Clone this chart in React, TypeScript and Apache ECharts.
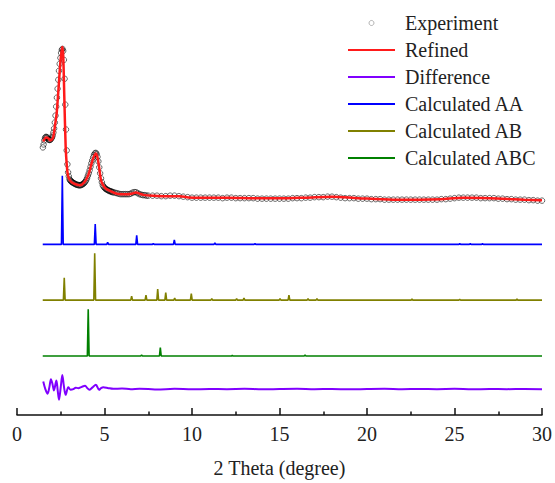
import React, { useEffect, useRef } from "react";
import * as echarts from "echarts";

// ---- Data (y in arbitrary intensity units, already stacked for display) ----
const experiment: [number, number][] = [
  [1.48, 269], [1.52, 272], [1.56, 276], [1.6, 278.5], [1.64, 279.5], [1.68, 279.5], [1.72, 279], [1.76, 278],
  [1.8, 277], [1.84, 276.5], [1.88, 276.5], [1.92, 277], [1.96, 278], [2.0, 279], [2.04, 281], [2.08, 284],
  [2.12, 288], [2.16, 294], [2.2, 301], [2.24, 310], [2.28, 319], [2.32, 328], [2.36, 337], [2.4, 346],
  [2.44, 353], [2.48, 359], [2.52, 364], [2.56, 367], [2.6, 368], [2.64, 366], [2.68, 357], [2.72, 338],
  [2.76, 312], [2.8, 287], [2.84, 266], [2.88, 252], [2.92, 244], [2.96, 240], [3.0, 237], [3.04, 236],
  [3.08, 235], [3.12, 234.5], [3.16, 234], [3.2, 233.5], [3.25, 233], [3.3, 232.5], [3.35, 232], [3.4, 231.5],
  [3.45, 231.5], [3.5, 231], [3.55, 231], [3.6, 231], [3.65, 231], [3.7, 231.5], [3.75, 232], [3.8, 232.5],
  [3.85, 233.5], [3.9, 234.5], [3.95, 236], [4.0, 238], [4.05, 240.5], [4.1, 243], [4.15, 246], [4.2, 249.5],
  [4.25, 253], [4.3, 256], [4.35, 259], [4.4, 261.5], [4.45, 263], [4.5, 263.5], [4.55, 262.5], [4.6, 259.5],
  [4.65, 255], [4.7, 249], [4.75, 243], [4.8, 238], [4.85, 234], [4.9, 231], [4.95, 229.5], [5.0, 228.5],
  [5.05, 227.5], [5.1, 227], [5.15, 226.5], [5.2, 226], [5.25, 225.5], [5.3, 225], [5.35, 225], [5.4, 224.5],
  [5.45, 224], [5.5, 224], [5.6, 223.5], [5.7, 223], [5.8, 222.5], [5.9, 222], [6.0, 222], [6.1, 222],
  [6.2, 222], [6.3, 222], [6.4, 222], [6.5, 222.5], [6.6, 223.5], [6.7, 224], [6.8, 224], [6.9, 223],
  [7.0, 222], [7.1, 221.5], [7.2, 221], [7.3, 221], [7.4, 220.5], [7.5, 220.5], [7.75, 220.5], [8.0, 220.5],
  [8.25, 220], [8.5, 220], [8.75, 220.5], [9.0, 220.5], [9.25, 220], [9.5, 219.5], [9.75, 219], [10.0, 218.5],
  [10.25, 218.5], [10.5, 218.5], [10.75, 218.5], [11.0, 218.5], [11.25, 218.5], [11.5, 218.5], [11.75, 218],
  [12.0, 218.5], [12.25, 218.5], [12.5, 218], [12.75, 218], [13.0, 218], [13.25, 218], [13.5, 218],
  [13.75, 217.5], [14.0, 217.5], [14.25, 217.5], [14.5, 217.5], [14.75, 217.5], [15.0, 217.5], [15.25, 217.5],
  [15.5, 217.5], [15.75, 218], [16.0, 218], [16.25, 218], [16.5, 218.5], [16.75, 218.5], [17.0, 219],
  [17.25, 219], [17.5, 219], [17.75, 219.5], [18.0, 219.5], [18.25, 219], [18.5, 218.5], [18.75, 218],
  [19.0, 218], [19.25, 218], [19.5, 217.5], [19.75, 217.5], [20.0, 217.5], [20.25, 217], [20.5, 217],
  [20.75, 217], [21.0, 216.5], [21.25, 216.5], [21.5, 216.5], [21.75, 216.5], [22.0, 216.5], [22.25, 216.5],
  [22.5, 216.5], [22.75, 216.5], [23.0, 216.5], [23.25, 216.5], [23.5, 216.5], [23.75, 216.5], [24.0, 216.5],
  [24.25, 217], [24.5, 217], [24.75, 217.5], [25.0, 218], [25.25, 218.5], [25.5, 218.5], [25.75, 218.5],
  [26.0, 218.5], [26.25, 218.5], [26.5, 218], [26.75, 218], [27.0, 218], [27.25, 218], [27.5, 217.5],
  [27.75, 217.5], [28.0, 217], [28.25, 217], [28.5, 216.5], [28.75, 216.5], [29.0, 216.5], [29.25, 216],
  [29.5, 216], [29.75, 215.5], [30.0, 215.5],
];

const refined: [number, number][] = [
  [1.5, 275], [1.66, 279], [1.8, 278], [1.89, 276], [2.0, 277], [2.08, 280], [2.18, 292], [2.27, 304],
  [2.38, 330], [2.48, 355], [2.55, 366], [2.59, 370], [2.64, 362], [2.7, 322], [2.78, 270], [2.85, 250],
  [2.92, 240], [3.02, 236], [3.12, 234], [3.35, 232], [3.6, 231], [3.85, 234], [4.07, 241], [4.22, 250],
  [4.35, 258], [4.5, 263], [4.6, 259], [4.7, 248], [4.8, 236], [4.92, 231], [5.05, 228], [5.35, 225],
  [5.7, 222.5], [6.27, 222], [6.55, 222.5], [6.8, 223.7], [7.0, 222.5], [7.22, 221.3], [7.8, 220.5],
  [8.6, 220], [9.3, 220], [9.8, 218.7], [10.5, 218.5], [12.0, 218.5], [13.5, 218], [15.0, 217.8],
  [16.5, 218.5], [18.0, 219.5], [19.5, 218], [21.5, 216.5], [23.0, 216.5], [24.2, 217], [25.5, 218.5],
  [27.0, 218], [28.4, 217], [29.0, 216.5], [30.0, 215.8],
];

const differenceOffset = 26;
const difference: [number, number][] = [
  [1.5, 7.7], [1.62, 0], [1.75, -4.7], [1.85, 2], [1.94, 10], [2.03, 5], [2.11, -1.3], [2.25, 8.7],
  [2.33, -2], [2.4, -10.7], [2.5, 2], [2.59, 14.3], [2.68, 3], [2.78, -5.7], [2.93, 2], [3.05, -0.5],
  [3.22, 0], [3.35, 1.5], [3.5, 1], [3.7, 2.3], [3.89, 3.3], [4.02, 1], [4.13, -0.7], [4.3, 1.5],
  [4.51, 4.3], [4.69, -0.7], [4.8, 1], [4.93, 2], [5.22, 1], [5.5, 0.3], [6.0, 0.6], [6.5, 0], [7.0, 0.4],
  [7.5, 0.2], [8, -0.3], [9, 0.3], [10, -0.2], [11, 0.2], [12, 0], [13, 0.3], [14, -0.2], [15, 0.1],
  [16, 0.3], [17, -0.1], [18, 0.2], [19, -0.2], [20, 0.1], [21, 0.3], [22, -0.1], [23, 0.2], [24, 0],
  [25, 0.3], [26, -0.2], [27, 0.2], [28, 0], [29, 0.2], [30, 0],
];

// Calculated patterns: [2theta, peak height above its baseline]
const aaOffset = 171.5;
const aaPeaks: [number, number][] = [
  [2.59, 69], [4.47, 20.5], [5.18, 2], [6.84, 9], [7.79, 1], [8.99, 4.5], [11.31, 1.5], [13.6, 0.7],
  [25.3, 0.8], [25.9, 0.7], [26.6, 0.7],
];
const abOffset = 115.5;
const abPeaks: [number, number][] = [
  [2.7, 22.5], [4.44, 47], [6.55, 4], [7.37, 5], [8.04, 11], [8.5, 7.5], [9.01, 2], [9.96, 6.5],
  [11.13, 1.5], [12.55, 1.5], [12.97, 2], [15.03, 1.5], [15.54, 5], [16.63, 1.5], [17.14, 1.5],
  [22.57, 1], [25.3, 0.7], [28.57, 1],
];
const abcOffset = 59.3;
const abcPeaks: [number, number][] = [
  [4.07, 47], [7.12, 1], [8.19, 8.4], [12.3, 0.7], [16.46, 1],
];

const legendNames = ["Experiment", "Refined", "Difference", "Calculated AA", "Calculated AB", "Calculated ABC"];
const xTicks = { min: 0, max: 30, interval: 5 };

function stickPattern(peaks: [number, number][], offset: number): [number, number][] {
  const pts: [number, number][] = [[1.47, offset]];
  const hw = 0.05;
  for (const [x, h] of peaks) {
    pts.push([x - hw, offset], [x, offset + h], [x + hw, offset]);
  }
  pts.push([30, offset]);
  return pts;
}

const FONT = "'Liberation Serif', 'Times New Roman', Times, serif";
const LINE_ICON = "path://M0,0H47V2H0Z";

export default function App() {
  const ref = useRef<HTMLDivElement>(null);
  useEffect(() => {
    if (!ref.current) return;
    const chart = echarts.init(ref.current, undefined, { renderer: "svg" });
    chart.setOption({
      animation: false,
      textStyle: { fontFamily: FONT },
      grid: { left: 17, right: 13, top: 37, bottom: 66 },
      legend: {
        orient: "vertical",
        left: 348,
        top: 13,
        padding: 0,
        itemWidth: 47,
        itemHeight: 5,
        itemGap: 7,
        textStyle: { fontSize: 20, fontFamily: FONT, color: "#222", padding: [0, 0, 0, 5] },
        data: legendNames.map((n, i) =>
          i === 0
            ? { name: n, itemStyle: { color: "rgba(0,0,0,0)", borderColor: "#8a8a8a", borderWidth: 0.8 } }
            : { name: n, icon: LINE_ICON }
        ),
      },
      xAxis: {
        type: "value",
        min: xTicks.min,
        max: xTicks.max,
        interval: xTicks.interval,
        axisLine: { lineStyle: { color: "#111", width: 1.5 } },
        axisTick: { inside: true, length: 7, lineStyle: { color: "#111", width: 1.5 } },
        minorTick: { show: true, splitNumber: 2, length: 3.5, lineStyle: { color: "#111", width: 1.5 } },
        splitLine: { show: false },
        axisLabel: { fontSize: 20, fontFamily: FONT, color: "#222", margin: 9 },
        name: "2 Theta (degree)",
        nameLocation: "middle",
        nameGap: 43,
        nameTextStyle: { fontSize: 20, fontFamily: FONT, color: "#222" },
      },
      yAxis: { type: "value", min: 0, max: 380, show: false, splitLine: { show: false } },
      series: [
        {
          name: "Experiment",
          type: "scatter",
          data: experiment,
          symbol: "circle",
          symbolSize: 5.5,
          itemStyle: { color: "rgba(0,0,0,0)", borderColor: "rgba(0,0,0,0.72)", borderWidth: 1 },
          z: 1,
        },
        {
          name: "Refined",
          type: "line",
          data: refined,
          symbol: "none",
          smooth: 0.3,
          lineStyle: { color: "#ff1a1a", width: 2.5 },
          itemStyle: { color: "#ff1a1a" },
          z: 3,
        },
        {
          name: "Difference",
          type: "line",
          data: difference.map(([x, y]) => [x, y + differenceOffset]),
          symbol: "none",
          smooth: 0.3,
          lineStyle: { color: "#8000ff", width: 2 },
          itemStyle: { color: "#8000ff" },
        },
        {
          name: "Calculated AA",
          type: "line",
          data: stickPattern(aaPeaks, aaOffset),
          symbol: "none",
          lineStyle: { color: "#0000ff", width: 1.6 },
          itemStyle: { color: "#0000ff" },
        },
        {
          name: "Calculated AB",
          type: "line",
          data: stickPattern(abPeaks, abOffset),
          symbol: "none",
          lineStyle: { color: "#808000", width: 1.6 },
          itemStyle: { color: "#808000" },
        },
        {
          name: "Calculated ABC",
          type: "line",
          data: stickPattern(abcPeaks, abcOffset),
          symbol: "none",
          lineStyle: { color: "#008000", width: 1.6 },
          itemStyle: { color: "#008000" },
        },
      ],
    });
    return () => chart.dispose();
  }, []);
  return (
    <div
      ref={ref}
      style={{ position: "fixed", left: 0, top: 0, width: 555, height: 483, background: "#fff" }}
    />
  );
}
